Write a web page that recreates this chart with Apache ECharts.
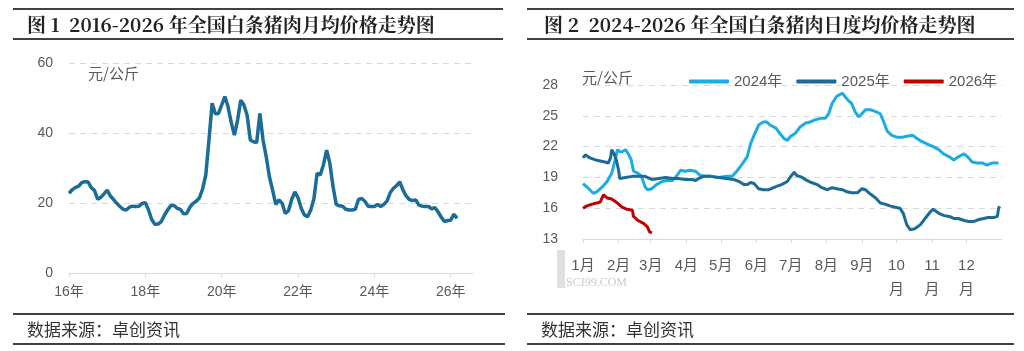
<!DOCTYPE html>
<html>
<head>
<meta charset="utf-8">
<script src="https://cdn.jsdelivr.net/npm/echarts@6/dist/echarts.min.js"></script>
<style>
html,body{margin:0;padding:0;background:#fff;}
#c{width:1024px;height:351px;}
</style>
</head>
<body>
<div id="c"></div>
<script>
// ---------- Chart 1: monthly average price, Jan 2016 onward (元/公斤) ----------
const yearTicks = ['16年', '18年', '20年', '22年', '24年', '26年'];
const monthlyPrice = [
  22.8, 23.8, 24.4, 24.8, 25.8, 26.1, 26.0, 24.4, 23.6, 21.1, 21.6, 22.6,
  23.7, 22.0, 21.0, 19.9, 19.0, 18.2, 18.0, 18.8, 19.1, 19.0, 19.1, 19.9,
  20.1, 18.0, 15.3, 13.9, 14.0, 14.7, 16.5, 18.0, 19.3, 19.3, 18.5, 18.2,
  16.9, 17.0, 18.8, 19.9, 20.5, 21.5, 24.0, 28.0, 38.0, 48.5, 45.5, 45.6,
  48.0, 50.4, 47.5, 43.0, 39.4, 43.7, 49.4, 48.0, 45.0, 38.0, 37.5, 37.3,
  45.6, 38.0, 33.2, 27.5, 23.7, 19.6, 20.9, 19.9, 17.0, 17.8, 21.0, 23.2,
  21.5, 18.5, 16.6, 16.1, 18.0, 21.3, 28.5, 28.0, 31.0, 35.1, 31.3, 24.7,
  19.6, 19.2, 19.1, 18.2, 18.0, 18.0, 18.2, 21.0, 21.3, 20.5, 19.1, 19.0,
  19.0, 19.6, 19.0, 19.6, 20.6, 23.0, 24.2, 25.0, 26.0, 23.7, 22.0, 21.0,
  20.7, 20.9, 19.4, 19.1, 19.0, 19.0, 18.3, 18.7, 17.5, 16.0, 14.7, 15.0,
  15.1, 16.8, 15.6
];

// ---------- Chart 2: daily average price by day of year (元/公斤) ----------
const monthLabels = ['1月', '2月', '3月', '4月', '5月', '6月', '7月', '8月', '9月', '10\n月', '11\n月', '12\n月'];
const monthStartDays = [0, 31, 59, 90, 120, 151, 181, 212, 243, 273, 304, 334];

const days2024 = [0,5,9,12,17,21,25,28,30,32,34,37,40,42,44,48,51,54,56,60,64,69,73,78,82,85,89,93,98,102,107,112,118,124,130,134,138,143,146,149,153,157,160,163,168,170,175,178,181,185,189,194,198,202,207,211,214,217,221,226,228,231,234,237,240,243,246,250,255,259,262,265,269,274,278,282,287,291,295,301,305,310,314,319,323,327,332,335,339,343,348,352,356,362];
const price2024 = [18.4,17.9,17.45,17.6,18.1,18.6,19.4,20.7,21.7,21.5,21.5,21.7,21.2,20.7,19.6,19.4,19.1,18.1,17.8,17.9,18.3,18.6,18.7,18.7,19.2,19.7,19.6,19.7,19.6,19.2,19.1,19.1,19.0,19.1,19.1,19.6,20.2,21.0,22.3,23.1,24.1,24.4,24.4,24.1,23.8,23.5,22.8,22.6,23.0,23.3,23.9,24.3,24.4,24.6,24.75,24.75,25.2,26.2,26.9,27.2,26.9,26.5,26.2,25.4,24.9,25.2,25.6,25.6,25.4,25.2,24.4,23.5,23.1,22.9,22.9,23.0,23.1,22.8,22.5,22.2,22.0,21.7,21.3,21.0,20.7,21.0,21.3,21.0,20.5,20.4,20.4,20.2,20.4,20.4];

const days2025 = [0,2,6,11,15,19,22,24,25,27,29,31,32,37,43,48,54,60,66,72,78,83,89,95,98,101,105,111,118,125,131,136,140,143,146,149,153,157,162,168,173,178,181,184,186,191,195,199,204,208,213,217,221,226,230,234,239,243,246,250,255,259,263,268,272,276,279,282,285,289,294,298,303,305,310,314,319,323,327,332,336,340,345,349,353,358,361,362,363];
const price2025 = [20.9,21.2,20.9,20.7,20.6,20.5,20.4,20.9,21.7,21.3,20.7,19.7,18.9,19.0,19.1,19.1,19.1,18.8,18.9,19.0,18.9,18.9,18.8,18.8,18.7,18.9,19.1,19.1,19.0,18.9,18.8,18.6,18.3,18.3,18.5,18.4,17.9,17.8,17.8,18.1,18.3,18.6,19.1,19.5,19.2,19.0,18.7,18.5,18.3,18.0,17.8,18.0,17.9,17.8,17.6,17.5,17.5,17.9,17.8,17.4,17.0,16.5,16.4,16.2,16.1,16.0,15.5,14.4,13.9,14.0,14.4,15.0,15.7,15.9,15.5,15.3,15.2,15.0,15.0,14.8,14.7,14.7,14.9,15.0,15.1,15.1,15.2,16.0,16.2];

const days2026 = [0,3,8,12,15,17,18,21,25,30,34,38,43,44,48,53,56,58,60];
const price2026 = [16.0,16.2,16.4,16.5,16.6,17.1,17.3,17.0,16.9,16.5,16.1,15.9,15.8,15.2,14.8,14.5,14.2,13.7,13.6];

const zip = (xs, ys) => xs.map((x, i) => [x, ys[i]]);

const FONT = '"Liberation Sans", "Noto Sans CJK SC", sans-serif';
const LABEL = '#595959';
const GRID_LINE = '#d9d9d9';
const RULE = '#404040';

const chart = echarts.init(document.getElementById('c'), null, {renderer: 'canvas'});

function rule(x1, x2, y) {
  return {type: 'line', shape: {x1: x1, y1: y, x2: x2, y2: y}, style: {stroke: RULE, lineWidth: 2}, silent: true};
}
function txt(x, y, s, size, weight, color, family) {
  return {type: 'text', x: x, y: y, style: {text: s, fontSize: size, fontWeight: weight || 'normal',
    fill: color || '#222', fontFamily: family || '"Noto Sans CJK SC", sans-serif', verticalAlign: 'middle', align: 'left'}, silent: true};
}

const option = {
  animation: false,
  backgroundColor: '#fff',
  graphic: [
    rule(13, 503, 9), rule(13, 503, 39), rule(13, 505, 314), rule(13, 505, 344),
    rule(527, 1014, 9), rule(527, 1014, 39), rule(527, 1014, 314), rule(527, 1014, 344),
    txt(27, 25, '图 1  2016-2026 年全国白条猪肉月均价格走势图', 19, 'bold', '#222', '"Noto Serif CJK SC", "Noto Sans CJK SC", serif'),
    txt(544, 25, '图 2  2024-2026 年全国白条猪肉日度均价格走势图', 19, 'bold', '#222', '"Noto Serif CJK SC", "Noto Sans CJK SC", serif'),
    txt(27, 330, '数据来源：卓创资讯', 17, 'normal', '#333'),
    txt(541, 330, '数据来源：卓创资讯', 17, 'normal', '#333'),
    txt(88, 73, '元/公斤', 15, 'normal', LABEL),
    txt(582, 77, '元/公斤', 15, 'normal', LABEL),
    txt(566, 283, 'SCI99.COM', 12, 'normal', '#cccccc', '"Liberation Serif", serif'),
    {type: 'rect', shape: {x: 557, y: 250, width: 8, height: 38}, style: {fill: '#e0e0e0'}, silent: true, z: -1}
  ],
  legend: {
    left: 684, top: 69,
    itemWidth: 40, itemHeight: 4, itemGap: 14,
    icon: 'roundRect',
    textStyle: {fontSize: 15, color: LABEL, fontFamily: FONT},
    data: ['2024年', '2025年', '2026年']
  },
  grid: [
    {left: 69, right: 551, top: 63, bottom: 78, containLabel: false},
    {left: 583, right: 22, top: 85, bottom: 112, containLabel: false}
  ],
  xAxis: [
    {
      type: 'value', gridIndex: 0, min: 0, max: 127,
      splitLine: {show: false},
      axisLine: {lineStyle: {color: GRID_LINE, width: 1}},
      axisTick: {show: true, length: 4, lineStyle: {color: GRID_LINE}, customValues: [0, 24, 48, 72, 96, 120]},
      axisLabel: {customValues: [0, 24, 48, 72, 96, 120], formatter: v => yearTicks[Math.round(v / 24)],
        color: LABEL, fontSize: 14, fontFamily: FONT, margin: 12}
    },
    {
      type: 'value', gridIndex: 1, min: 0, max: 365,
      splitLine: {show: false},
      axisLine: {lineStyle: {color: GRID_LINE, width: 1}},
      axisTick: {show: true, length: 4, lineStyle: {color: GRID_LINE}, customValues: monthStartDays},
      axisLabel: {customValues: monthStartDays, formatter: v => monthLabels[monthStartDays.indexOf(v)],
        color: LABEL, fontSize: 15, fontFamily: FONT, margin: 15, lineHeight: 24, verticalAlign: 'top'}
    }
  ],
  yAxis: [
    {
      type: 'value', gridIndex: 0, min: 0, max: 60, interval: 20,
      axisLine: {show: false}, axisTick: {show: false},
      splitLine: {lineStyle: {color: GRID_LINE, type: [6, 5], width: 1}},
      axisLabel: {color: LABEL, fontSize: 14, fontFamily: FONT, margin: 16}
    },
    {
      type: 'value', gridIndex: 1, min: 13, max: 28, interval: 3,
      axisLine: {show: false}, axisTick: {show: false},
      splitLine: {lineStyle: {color: GRID_LINE, type: [6, 5], width: 1}},
      axisLabel: {color: LABEL, fontSize: 14, fontFamily: FONT, margin: 25}
    }
  ],
  series: [
    {
      name: '月均价', type: 'line', xAxisIndex: 0, yAxisIndex: 0,
      data: monthlyPrice.map((v, i) => [i, v]),
      showSymbol: false, lineStyle: {color: '#1b6c97', width: 3.5}, itemStyle: {color: '#1b6c97'}
    },
    {
      name: '2024年', type: 'line', xAxisIndex: 1, yAxisIndex: 1,
      data: zip(days2024, price2024),
      showSymbol: false, lineStyle: {color: '#1aace3', width: 3}, itemStyle: {color: '#1aace3'}
    },
    {
      name: '2025年', type: 'line', xAxisIndex: 1, yAxisIndex: 1,
      data: zip(days2025, price2025),
      showSymbol: false, lineStyle: {color: '#1c6a96', width: 3}, itemStyle: {color: '#1c6a96'}
    },
    {
      name: '2026年', type: 'line', xAxisIndex: 1, yAxisIndex: 1,
      data: zip(days2026, price2026),
      showSymbol: false, lineStyle: {color: '#c00000', width: 3}, itemStyle: {color: '#c00000'}
    }
  ]
};
chart.setOption(option);
</script>
</body>
</html>
